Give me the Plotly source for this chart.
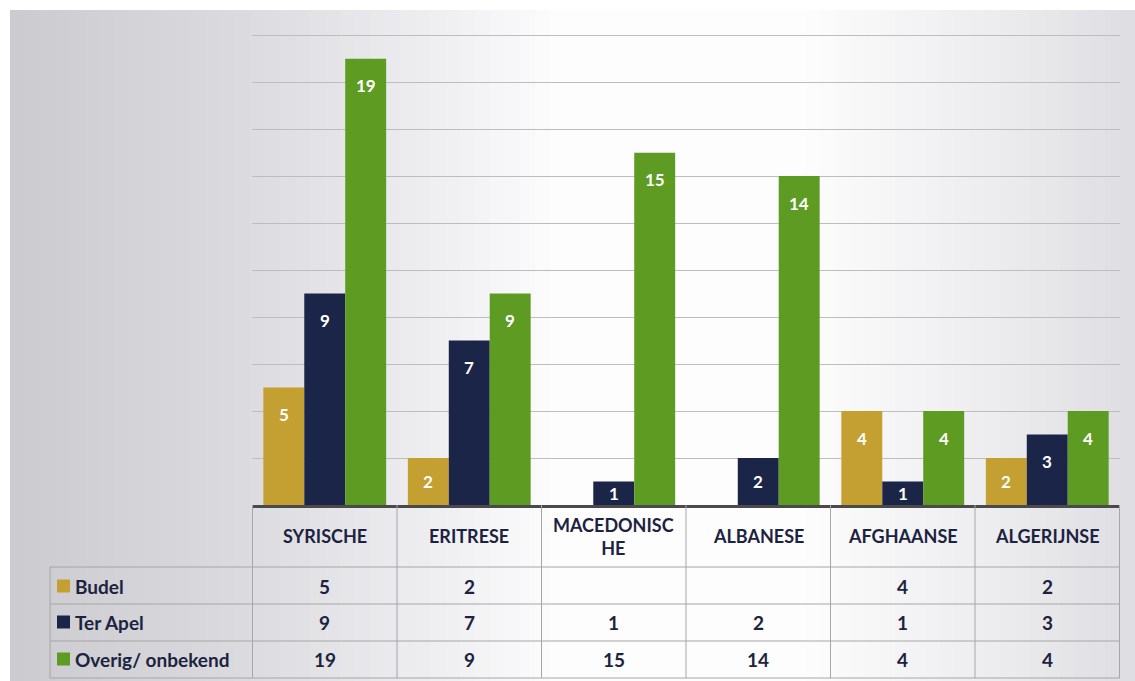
import plotly.graph_objects as go

categories = ["SYRISCHE", "ERITRESE", "MACEDONISCHE", "ALBANESE", "AFGHAANSE", "ALGERIJNSE"]
header_labels = ["SYRISCHE", "ERITRESE", "MACEDONISC<br>HE", "ALBANESE", "AFGHAANSE", "ALGERIJNSE"]
series_names = ["Budel", "Ter Apel", "Overig/ onbekend"]
budel = [5, 2, None, None, 4, 2]
ter_apel = [9, 7, 1, 2, 1, 3]
overig = [19, 9, 15, 14, 4, 4]
series_values = [budel, ter_apel, overig]
colors = ["#C4A033", "#1B2548", "#5E9B23"]
y_max = 20

W, H = 1135, 681
L, R, T, B = 252, 15, 34, 176
PW, PH = W - L - R, H - T - B
BARGAP = 0.15
FONT = "Lato"
TXT = "#1c2340"


def px_x(px):
    return (px - L) / PW


def px_y(py):
    return (H - B - py) / PH


fig = go.Figure()
for name, vals, col in zip(series_names, series_values, colors):
    fig.add_trace(go.Bar(
        x=categories, y=vals, name=name, marker=dict(color=col, line=dict(width=0)),
        showlegend=False, hoverinfo="x+y+name",
    ))

shapes = []
# background scan-like gradient (vertical strips)
stops = [(10, (202, 202, 207)), (250, (220, 220, 224)), (450, (240, 240, 243)),
         (560, (253, 253, 253)), (800, (253, 253, 253)), (1000, (236, 236, 239)),
         (1135, (222, 222, 226))]


def col_at(px):
    for (a, ca), (b, cb) in zip(stops[:-1], stops[1:]):
        if a <= px <= b:
            t = (px - a) / (b - a)
            c = [round(ca[i] + (cb[i] - ca[i]) * t) for i in range(3)]
            return "rgb(%d,%d,%d)" % tuple(c)
    return "rgb(255,255,255)"


step = 15
for x0 in range(10, W, step):
    shapes.append(dict(type="rect", xref="paper", yref="paper", layer="below",
                       x0=px_x(x0), x1=px_x(min(x0 + step + 1, W)), y0=px_y(H), y1=px_y(10),
                       fillcolor=col_at(x0 + step / 2), line=dict(width=0)))

# table
gridc = "#a6a6a6"
row_lines = [567, 604, 641, 678]
for py in row_lines:
    shapes.append(dict(type="line", xref="paper", yref="paper", x0=px_x(50), x1=1,
                       y0=px_y(py), y1=px_y(py), line=dict(color=gridc, width=1)))
for i in range(len(categories) + 1):
    shapes.append(dict(type="line", xref="x", yref="paper", x0=i - 0.5, x1=i - 0.5,
                       y0=0, y1=px_y(678), line=dict(color=gridc, width=1)))
shapes.append(dict(type="line", xref="paper", yref="paper", x0=px_x(50), x1=px_x(50),
                   y0=px_y(567), y1=px_y(678), line=dict(color=gridc, width=1)))

annotations = []
# header
for i, lab in enumerate(header_labels):
    annotations.append(dict(x=i, y=px_y(536), xref="x", yref="paper", text=lab, showarrow=False,
                            xanchor="center", yanchor="middle",
                            font=dict(family=FONT, size=18, color=TXT, weight="bold")))
row_centers = [586, 622, 659]
for r, (name, vals, col) in enumerate(zip(series_names, series_values, colors)):
    cy = row_centers[r]
    shapes.append(dict(type="rect", xref="paper", yref="paper", x0=px_x(57), x1=px_x(70),
                       y0=px_y(cy + 6.5), y1=px_y(cy - 6.5), fillcolor=col, line=dict(width=0)))
    annotations.append(dict(x=px_x(73), y=px_y(cy), xref="paper", yref="paper",
                            xanchor="left", yanchor="middle", showarrow=False, text=name,
                            font=dict(family=FONT, size=19, color=TXT, weight="bold")))
    for i, v in enumerate(vals):
        if v is None:
            continue
        annotations.append(dict(x=i, y=px_y(cy), xref="x", yref="paper",
                                xanchor="center", yanchor="middle",
                                text=str(v), showarrow=False,
                                font=dict(family=FONT, size=19, color=TXT, weight="bold")))

# bar value labels
w = (1 - BARGAP) / 3
for k, vals in enumerate(series_values):
    for i, v in enumerate(vals):
        if v is None:
            continue
        annotations.append(dict(x=i + (k - 1) * w, y=max(v - 1.15, v / 2), xref="x", yref="y",
                                xanchor="center", yanchor="middle",
                                text=str(v), showarrow=False,
                                font=dict(family=FONT, size=17, color="white", weight="bold")))

fig.update_layout(
    width=W, height=H, margin=dict(l=L, r=R, t=T, b=B, autoexpand=False),
    paper_bgcolor="white", plot_bgcolor="rgba(0,0,0,0)",
    barmode="group", bargap=BARGAP, bargroupgap=0,
    shapes=shapes, annotations=annotations,
    xaxis=dict(showticklabels=False, showgrid=False, showline=True, linecolor="#4a4a4a",
               linewidth=2.5, ticks="", fixedrange=True),
    yaxis=dict(range=[0, y_max * 1.0025], tick0=0, dtick=2, showticklabels=False, showgrid=True,
               gridcolor="#bdbdbd", gridwidth=1, zeroline=False, ticks="", fixedrange=True),
    font=dict(family=FONT),
)

fig.write_html("out.html", config={"displayModeBar": False},
               post_script="document.body.style.margin='0';document.body.style.overflow='hidden';")
